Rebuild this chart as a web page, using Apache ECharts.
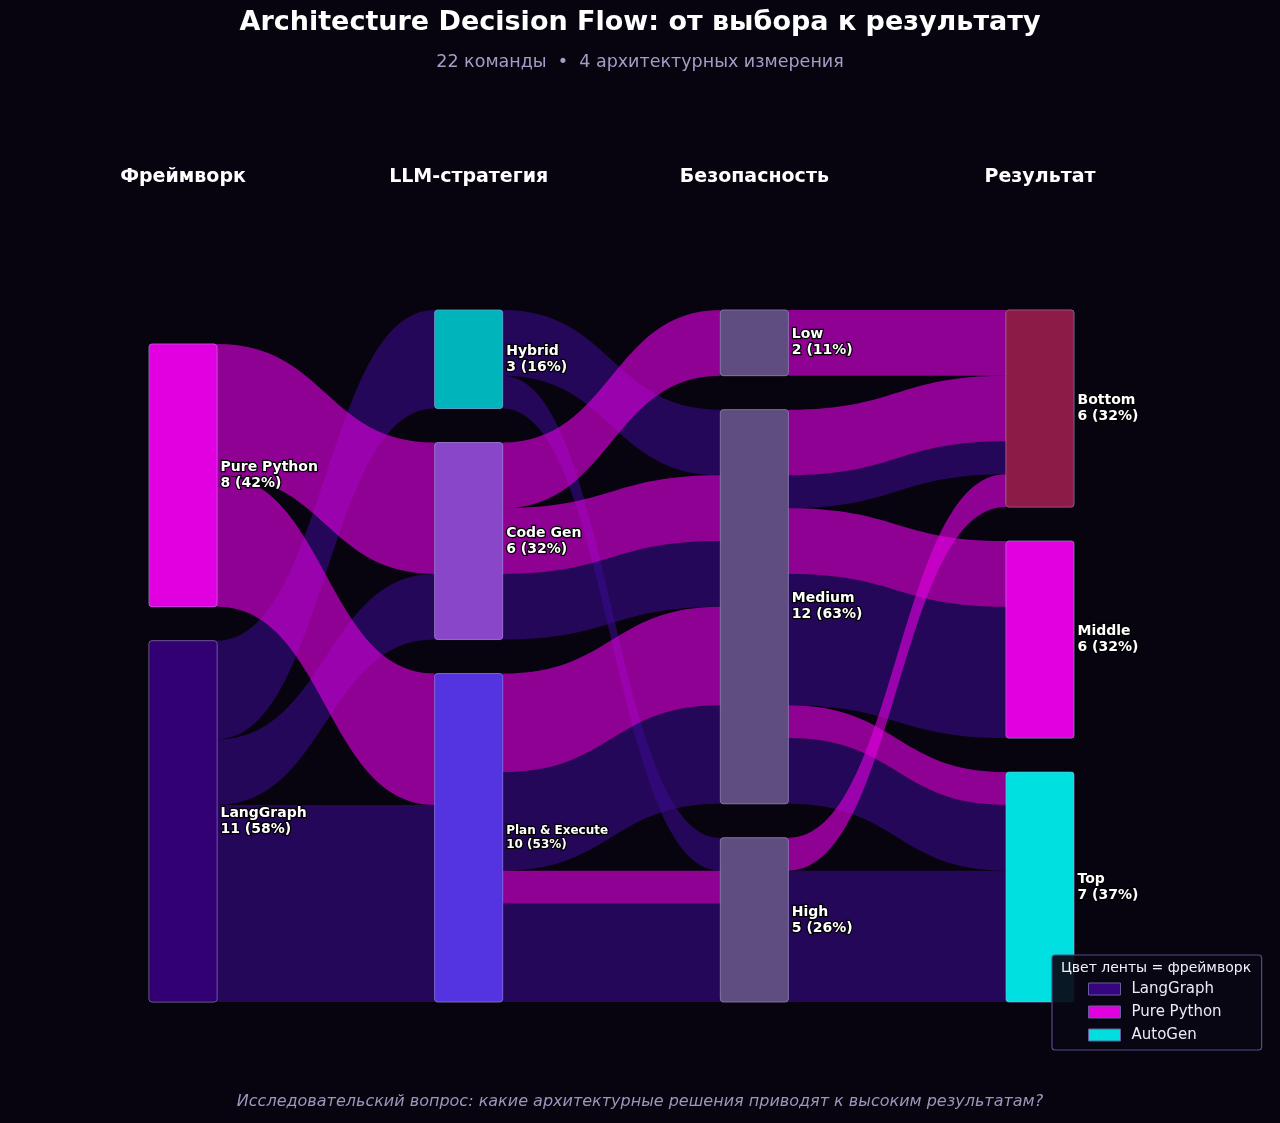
<!DOCTYPE html>
<html lang="ru">
<head>
<meta charset="UTF-8">
<title>Architecture Decision Flow</title>
<script src="https://cdn.jsdelivr.net/npm/echarts@6.0.0/dist/echarts.min.js"></script>
<style>
  html, body { margin: 0; padding: 0; background: #07040f; }
  #chart { width: 1280px; height: 1123px; }
</style>
</head>
<body>
<div id="chart"></div>
<script>
// column headers
const columnTitles = ['Фреймворк', 'LLM-стратегия', 'Безопасность', 'Результат'];

// nodes per column with team counts
const frameworks = ['Pure Python', 'LangGraph'];
const frameworkCounts = [8, 11];
const strategies = ['Hybrid', 'Code Gen', 'Plan & Execute'];
const strategyCounts = [3, 6, 10];
const securityLevels = ['Low', 'Medium', 'High'];
const securityCounts = [2, 12, 5];
const results = ['Bottom', 'Middle', 'Top'];
const resultCounts = [6, 6, 7];
const totalTeams = 19;

// ribbons: [source, target, framework of those teams, teams]
// Pure Python rows first so they stack above LangGraph inside a node
const flowsFrameworkStrategy = [
  ['Pure Python', 'Code Gen', 'Pure Python', 4],
  ['Pure Python', 'Plan & Execute', 'Pure Python', 4],
  ['LangGraph', 'Hybrid', 'LangGraph', 3],
  ['LangGraph', 'Code Gen', 'LangGraph', 2],
  ['LangGraph', 'Plan & Execute', 'LangGraph', 6]
];
const flowsStrategySecurity = [
  ['Code Gen', 'Low', 'Pure Python', 2],
  ['Code Gen', 'Medium', 'Pure Python', 2],
  ['Plan & Execute', 'Medium', 'Pure Python', 3],
  ['Plan & Execute', 'High', 'Pure Python', 1],
  ['Hybrid', 'Medium', 'LangGraph', 2],
  ['Hybrid', 'High', 'LangGraph', 1],
  ['Code Gen', 'Medium', 'LangGraph', 2],
  ['Plan & Execute', 'Medium', 'LangGraph', 3],
  ['Plan & Execute', 'High', 'LangGraph', 3]
];
const flowsSecurityResult = [
  ['Low', 'Bottom', 'Pure Python', 2],
  ['Medium', 'Bottom', 'Pure Python', 2],
  ['Medium', 'Middle', 'Pure Python', 2],
  ['Medium', 'Top', 'Pure Python', 1],
  ['High', 'Bottom', 'Pure Python', 1],
  ['Medium', 'Bottom', 'LangGraph', 1],
  ['Medium', 'Middle', 'LangGraph', 4],
  ['Medium', 'Top', 'LangGraph', 2],
  ['High', 'Top', 'LangGraph', 4]
];

const legendNames = ['LangGraph', 'Pure Python', 'AutoGen'];

// colours
const frameworkColors = { 'LangGraph': '#35067f', 'Pure Python': '#e000e0', 'AutoGen': '#00dede' };
const ribbonStyle = {
  'LangGraph': { color: '#3a0a8e', opacity: 0.58 },
  'Pure Python': { color: '#e400e4', opacity: 0.62 }
};
const nodeColors = {
  'Pure Python': '#e000e0', 'LangGraph': '#330074',
  'Hybrid': '#00b4bb', 'Code Gen': '#8a46c8', 'Plan & Execute': '#5433e0',
  'Low': '#5f4d7f', 'Medium': '#5f4d7f', 'High': '#5f4d7f',
  'Bottom': '#8c1b47', 'Middle': '#e000e0', 'Top': '#00e0e0'
};

// layout of the sankey box
const W = 1280, H = 1123;
const sLeft = 149, sRight = 206, sTop = 310, sBottom = 121;
const nodeW = 68;
const font = 'DejaVu Sans';

const nodes = [];
// invisible spacer so the two-node column sits at the bottom like the original
nodes.push({
  name: '__spacer', depth: 0, value: 0.0001,
  itemStyle: { color: 'rgba(0,0,0,0)', borderWidth: 0 },
  label: { show: false }
});
function addColumn(names, counts, depth) {
  names.forEach((n, i) => {
    const node = {
      name: n, depth: depth, value: counts[i],
      itemStyle: { color: nodeColors[n] }
    };
    if (n === 'Plan & Execute') node.label = { fontSize: 12, lineHeight: 14 };
    nodes.push(node);
  });
}
addColumn(frameworks, frameworkCounts, 0);
addColumn(strategies, strategyCounts, 1);
addColumn(securityLevels, securityCounts, 2);
addColumn(results, resultCounts, 3);

// same links for both layers; each layer only paints one framework,
// so magenta ribbons end up drawn over the dark ones
function buildLinks(visibleFw) {
  const links = [];
  [flowsFrameworkStrategy, flowsStrategySecurity, flowsSecurityResult].forEach(list => {
    list.forEach(f => {
      const st = ribbonStyle[f[2]];
      links.push({
        source: f[0], target: f[1], value: f[3],
        lineStyle: { color: st.color, opacity: f[2] === visibleFw ? st.opacity : 0 }
      });
    });
  });
  return links;
}

function sankeyLayer(visibleFw, showLabels) {
  return {
    type: 'sankey',
    name: 'teams-' + visibleFw,
    left: sLeft, right: sRight, top: sTop, bottom: sBottom,
    nodeWidth: nodeW,
    nodeGap: 34,
    nodeAlign: 'left',
    layoutIterations: 0,
    draggable: false,
    silent: true,
    emphasis: { disabled: true },
    itemStyle: { borderColor: 'rgba(190,170,240,0.35)', borderWidth: 1, borderRadius: 3 },
    lineStyle: { curveness: 0.5 },
    label: {
      show: showLabels,
      position: 'right', distance: 3,
      color: '#ffffff', fontSize: 14, lineHeight: 16, fontWeight: 'bold', fontFamily: font,
      textBorderColor: '#000000', textBorderWidth: 2.5,
      formatter: p => p.name + '\n' + p.value + ' (' + Math.round(p.value / totalTeams * 100) + '%)'
    },
    data: nodes.map(n => showLabels ? n : Object.assign({}, n, { label: { show: false } })),
    links: buildLinks(visibleFw)
  };
}

// header x positions follow the sankey columns
const plotW = W - sLeft - sRight;
const headerGraphics = columnTitles.map((t, i) => ({
  type: 'text',
  x: sLeft + nodeW / 2 + i * (plotW - nodeW) / 3,
  y: 177,
  style: {
    text: t, fill: '#ffffff', font: 'bold 19px "' + font + '"',
    align: 'center', verticalAlign: 'middle'
  }
}));

const chart = echarts.init(document.getElementById('chart'));

const option = {
  backgroundColor: '#07040f',
  animation: false,
  title: [
    {
      text: 'Architecture Decision Flow: от выбора к результату',
      left: 'center', top: 9, padding: 0,
      textStyle: { color: '#ffffff', fontSize: 27, fontWeight: 'bold', fontFamily: font }
    },
    {
      text: '22 команды  •  4 архитектурных измерения',
      left: 'center', top: 53, padding: 0,
      textStyle: { color: '#a49ec4', fontSize: 17.5, fontWeight: 'normal', fontFamily: font }
    }
  ],
  legend: {
    orient: 'vertical',
    left: 1052, top: 955,
    padding: [25, 40, 6, 36],
    itemGap: 5,
    itemWidth: 32, itemHeight: 12,
    icon: 'rect',
    backgroundColor: 'rgba(9,6,20,0.92)',
    borderColor: '#564a86',
    borderWidth: 1.2,
    borderRadius: 3,
    selectedMode: false,
    textStyle: { color: '#ece9f5', fontSize: 15, lineHeight: 18, fontFamily: font, padding: [0, 0, 0, 6] },
    data: legendNames.map(n => ({
      name: n,
      itemStyle: { color: frameworkColors[n], borderColor: '#6a5a9a', borderWidth: 1 }
    }))
  },
  graphic: headerGraphics.concat([
    {
      type: 'text', x: 1156, y: 968, z: 100,
      style: {
        text: 'Цвет ленты = фреймворк', fill: '#f2f0f8',
        font: '14px "' + font + '"', align: 'center', verticalAlign: 'middle'
      }
    },
    {
      type: 'text', x: 640, y: 1102,
      style: {
        text: 'Исследовательский вопрос: какие архитектурные решения приводят к высоким результатам?',
        fill: '#9c96bb', font: 'italic 16px "' + font + '"',
        align: 'center', verticalAlign: 'middle'
      }
    }
  ]),
  series: [
    sankeyLayer('LangGraph', false),
    sankeyLayer('Pure Python', true)
  ].concat(legendNames.map(n => ({
    type: 'graph', name: n, data: [], links: [],
    itemStyle: { color: frameworkColors[n] }
  })))
};

chart.setOption(option);
</script>
</body>
</html>
